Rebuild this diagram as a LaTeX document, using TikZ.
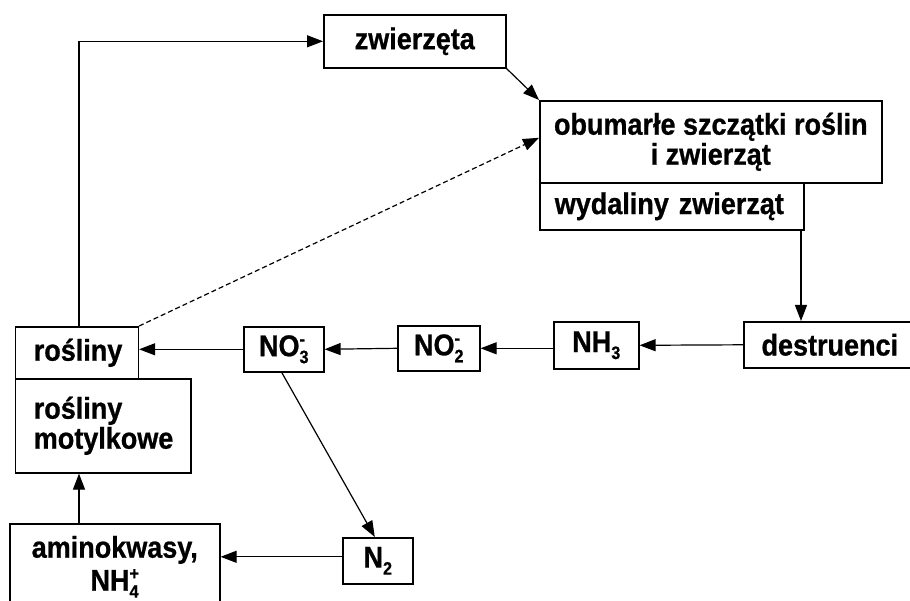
\documentclass[tikz,border=0pt]{standalone}
\usepackage{fontspec}
\setmainfont{Liberation Sans}[FakeStretch=0.9, BoldFeatures={FakeBold=0.8}]
\usetikzlibrary{arrows.meta}
\newcommand\subsz{\fontsize{18}{18}\selectfont}
\newcommand\chsub[1]{\raisebox{-7pt}{\subsz #1}}
\newcommand\chsubsup[2]{\setbox0\hbox{\subsz #1}\setbox2\hbox{\subsz #2}%
  \ifdim\wd0>\wd2 \dimen0=\wd0\else\dimen0=\wd2\fi
  \makebox[\dimen0][l]{\rlap{\raisebox{-7pt}{\copy0}}\raisebox{11pt}{\copy2}}}
\tikzset{
  box/.style={draw, line width=1.6pt, inner sep=0pt, anchor=north west,
    align=center, font=\fontsize{30}{30}\selectfont\bfseries},
  lbox/.style={box, align=left},
  arr/.style={line width=1.2pt, -{Triangle[length=16pt,width=12pt]}},
  darr/.style={arr, dashed, dash pattern=on 5pt off 3pt}
}
\begin{document}
\begin{tikzpicture}[x=1pt,y=-1pt]
\useasboundingbox (0,0) rectangle (910,601);
\node[box, minimum width=182pt, minimum height=53pt] (zw) at (323,14) {zwierzęta};
\node[box, minimum width=342pt, minimum height=82pt] (ob) at (539,100) {obumarłe szczątki roślin\\i zwierząt};
\node[lbox, minimum width=264pt, minimum height=47pt, text width=234pt, inner xsep=15pt] (wy) at (539,182) {wydaliny zwierząt};
\node[box, minimum width=172pt, minimum height=46pt] (de) at (743,321) {destruenci};
\node[box, minimum width=85pt, minimum height=47pt] (nh) at (553,321) {NH\chsub{3}};
\node[box, minimum width=82pt, minimum height=45pt] (no2) at (397,325) {NO\chsubsup{2}{-}};
\node[box, minimum width=80pt, minimum height=45pt] (no3) at (243,326) {NO\chsubsup{3}{-}};
\node[lbox, minimum width=123pt, minimum height=52pt, text width=86pt, inner xsep=18.5pt] (ro) at (14.5,326) {rośliny};
\node[lbox, minimum width=175.5pt, minimum height=94pt, text width=138.5pt, inner xsep=18.5pt] (mo) at (14.5,378) {rośliny\\motylkowe};
\node[box, minimum width=210pt, minimum height=86pt] (am) at (9,523) {aminokwasy,\\[3pt]NH\chsubsup{4}{+}};
\node[box, minimum width=70pt, minimum height=46pt] (n2) at (342,537) {N\chsub{2}};
\coordinate (vx) at (79,0);
\coordinate (vw) at (801,0);
% connectors
\draw[arr] (vx |- ro.north) |- (zw.west);
\draw[arr] (zw.south east) -- (ob.north west);
\draw[darr] (ro.north east) -- ([yshift=4pt]ob.west);
\draw[arr] (vw |- wy.south) -- (vw |- de.north);
\draw[arr] (de.west) -- (nh.east);
\draw[arr] (no2.east -| nh.west) -- (no2.east);
\draw[arr] (no2.west) -- (no3.east);
\draw[arr] (no3.west) -- (no3.west -| ro.east);
\draw[arr] ([xshift=-2pt]no3.south) -- ([xshift=-3pt]n2.north);
\draw[arr] ([yshift=4pt]n2.west) -- ([yshift=4pt]n2.west -| am.east);
\draw[arr] (vx |- am.north) -- (vx |- mo.south);
\end{tikzpicture}
\end{document}
